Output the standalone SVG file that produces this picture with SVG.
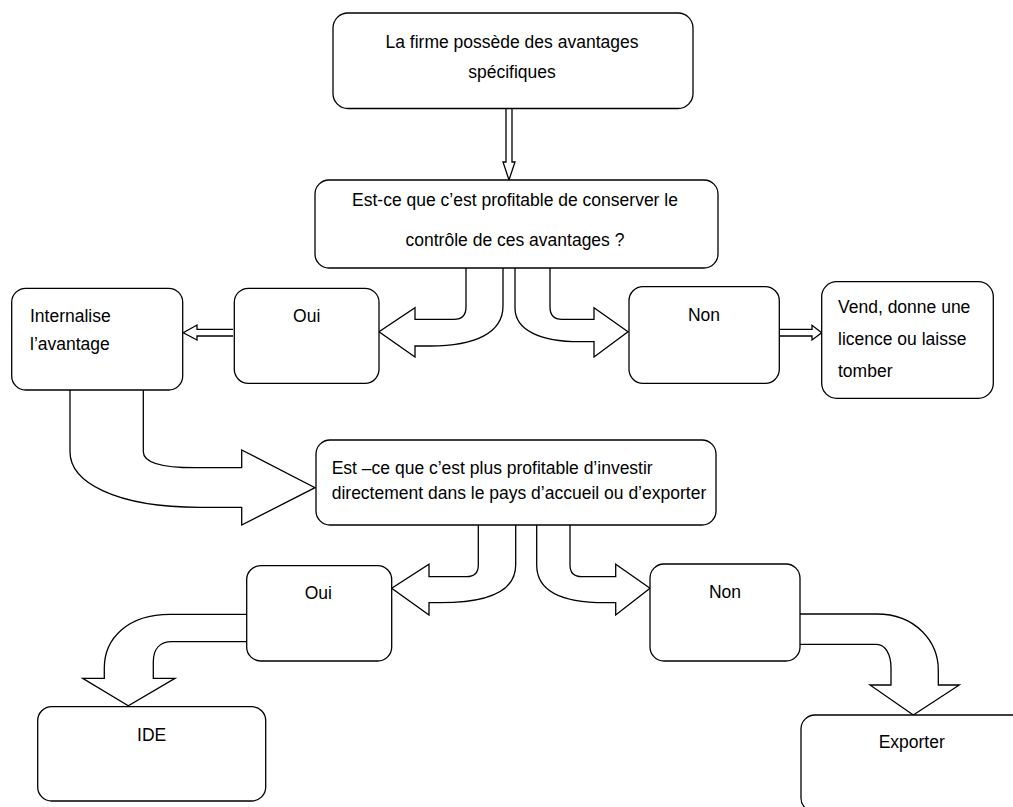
<svg xmlns="http://www.w3.org/2000/svg" width="1013" height="807" viewBox="0 0 1013 807">
<style>
.box{fill:#fff;stroke:#000;stroke-width:1.3}
.arr{fill:#fff;stroke:#000;stroke-width:1.3;stroke-linejoin:miter}
.t{font-family:"Liberation Sans",Arial,sans-serif;font-size:17.5px;fill:#000}
.c{text-anchor:middle}
</style>
<rect width="1013" height="807" fill="#fff"/>
<g id="connectors">
<path class="arr" d="M506,108 L506,162 L503,162 L509,180 L515,162 L512,162 L512,108"/>
<path class="arr" d="M466,268 L466,307 Q466,319.3 454,319.3 L415,319.3 L415,307.7 L379,331.7 L415,357 L415,346 L430,346 C475,346 503,333 503,306 L503,268"/>
<path class="arr" d="M550,268 L550,307 Q550,319.3 562,319.3 L594,319.3 L594,307.7 L628,331.7 L594,357 L594,341.7 L580,341.7 C540,341.7 515,330 515,308 L515,268"/>
<path class="arr" d="M233,329.3 L197,329.3 L197,325 L183.3,332.7 L197,340 L197,336 L233,336"/>
<path class="arr" d="M779,329.3 L812,329.3 L812,325.3 L821.7,332.7 L812,340 L812,336 L779,336"/>
<path class="arr" d="M70,390 L70,451.7 C70,482 115,507.3 200,507.3 L241.7,507.3 L241.7,525 L315,487.7 L241.7,450 L241.7,467.7 L195,467.7 C160,467.7 143.3,462 143.3,451.7 L143.3,390"/>
<path class="arr" d="M478.3,525 L478.3,565 Q478.3,576.7 466.5,576.7 L429,576.7 L429,564.3 L391.7,588.3 L429,615 L429,602.7 L440,602.7 C492,602.7 515.7,590 515.7,565 L515.7,525"/>
<path class="arr" d="M570,525 L570,565 Q570,576.7 581.8,576.7 L615.7,576.7 L615.7,564.3 L650,588.3 L615.7,615 L615.7,602.7 L605,602.7 C560,602.7 536.7,590 536.7,565 L536.7,525"/>
<path class="arr" d="M246.7,614.3 L170,614.3 C128,614.3 104.3,638 104.3,668 L104.3,678.3 L82.7,678.3 L128.3,705.7 L175,678.3 L153.3,678.3 L153.3,662 C153.3,649 160,641.7 172,641.7 L246.7,641.7"/>
<path class="arr" d="M800,614 L876.7,614 C916,614 938.3,642 938.3,670 L938.3,685 L959.3,685 L913.3,715 L870,685 L891,685 L891,668 C891,654 885,644.3 876.7,644.3 L800,644.3"/>
</g>
<g id="n1">
<rect class="box" x="333" y="13" width="360" height="95.5" rx="15"/>
<text class="t c" x="512" y="48">La firme possède des avantages</text>
<text class="t c" x="512" y="78">spécifiques</text>
</g>
<g id="n2">
<rect class="box" x="315" y="180" width="403" height="88" rx="14"/>
<text class="t c" x="515" y="206">Est-ce que c’est profitable de conserver le</text>
<text class="t c" x="515" y="246">contrôle de ces avantages ?</text>
</g>
<g id="n_internalise">
<rect class="box" x="11.7" y="288.3" width="171" height="101.7" rx="14"/>
<text class="t" x="30" y="321.7">Internalise</text>
<text class="t" x="30" y="350">l’avantage</text>
</g>
<g id="n_oui1">
<rect class="box" x="234.3" y="288.3" width="144.7" height="95" rx="14"/>
<text class="t c" x="306.7" y="321.5">Oui</text>
</g>
<g id="n_non1">
<rect class="box" x="629" y="286.7" width="150.3" height="96.6" rx="14"/>
<text class="t c" x="704" y="320.7">Non</text>
</g>
<g id="n_vend">
<rect class="box" x="821.7" y="281.7" width="171.6" height="116.6" rx="15"/>
<text class="t" x="838" y="313">Vend, donne une</text>
<text class="t" x="838" y="345">licence ou laisse</text>
<text class="t" x="838" y="376.7">tomber</text>
</g>
<g id="n3">
<rect class="box" x="316" y="440" width="400" height="85" rx="14"/>
<text class="t" x="331.7" y="474">Est –ce que c’est plus profitable d’investir</text>
<text class="t" x="331.7" y="499">directement dans le pays d’accueil ou d’exporter</text>
</g>
<g id="n_oui2">
<rect class="box" x="246.7" y="565.7" width="145" height="95.3" rx="14"/>
<text class="t c" x="318.3" y="599.3">Oui</text>
</g>
<g id="n_non2">
<rect class="box" x="650" y="564" width="150" height="97" rx="14"/>
<text class="t c" x="725" y="598.3">Non</text>
</g>
<g id="n_ide">
<rect class="box" x="37.7" y="706.7" width="228" height="94.3" rx="14"/>
<text class="t c" x="151.7" y="740.7">IDE</text>
</g>
<g id="n_exporter">
<rect class="box" x="801" y="715" width="240" height="97" rx="14"/>
<text class="t c" x="911.7" y="748.3">Exporter</text>
</g>
</svg>
